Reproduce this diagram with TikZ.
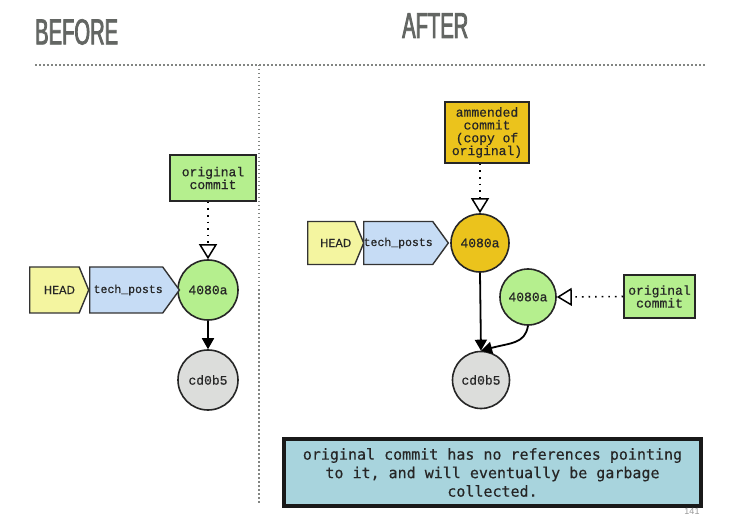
\documentclass[tikz,border=0pt]{standalone}
\usepackage{fontspec}
\setmainfont{Liberation Sans}
\newfontfamily\titlefont[FakeStretch=0.56,FakeBold=2.2]{Liberation Sans}
\newfontfamily\lblfont[FakeBold=0.6]{Liberation Mono}
\newfontfamily\boxfont[FakeBold=0.4]{DejaVu Sans Mono}
\newfontfamily\headfont[FakeBold=0.4]{DejaVu Sans}
\usetikzlibrary{shapes.symbols,arrows.meta,calc}
\definecolor{titlegray}{HTML}{636663}
\definecolor{cgreen}{HTML}{B5EF8E}
\definecolor{cgold}{HTML}{EBC31C}
\definecolor{cgray}{HTML}{DCDDDB}
\definecolor{cyellow}{HTML}{F4F5A0}
\definecolor{cblue}{HTML}{C6DCF5}
\definecolor{cnote}{HTML}{A8D4DD}
\tikzset{
  lbl/.style={font=\lblfont\fontsize{13}{12.8}\selectfont, text=black!85},
  commit/.style={circle, draw=black!85, line width=1.6pt, minimum size=60pt, inner sep=0pt, lbl},
  tagbox/.style={rectangle, draw=black!85, line width=1.8pt, lbl, align=center, inner sep=0pt},
  refbox/.style={signal, signal to=east, draw=black!80, line width=1.4pt, inner sep=0pt, anchor=west},
  headbox/.style={refbox, fill=cyellow, signal pointer angle=135, font=\headfont\fontsize{11}{11}\selectfont, text=black!85},
  branchbox/.style={refbox, fill=cblue, signal pointer angle=108, font=\lblfont\fontsize{11.5}{11.5}\selectfont, text=black!85},
  dotarrow/.style={line width=1.6pt, dash pattern=on 1.6pt off 5pt, -{Triangle[open,width=18pt,length=15pt,line width=1.5pt]}},
  parent/.style={line width=1.8pt, -{Triangle[width=12pt,length=11pt]}},
  sep/.style={line width=1.5pt, titlegray!80, dash pattern=on 1.5pt off 2.5pt},
  title/.style={font=\titlefont\fontsize{36}{36}\selectfont, text=titlegray, inner sep=0pt, anchor=north west},
}
\begin{document}
\begin{tikzpicture}[x=1pt,y=-1pt]
\useasboundingbox[fill=white] (0,0) rectangle (732,524);
% titles
\node[title] (tb) at (35,19) {BEFORE};
\node[title] (ta) at (402,13) {AFTER};
% separators
\coordinate (h1) at (35,65);
\coordinate (h2) at (705,65);
\coordinate (v1) at (259,65);
\coordinate (v2) at (259,505);
\draw[sep] (h1) -- (h2);
\draw[sep] (v1) -- (v2);
% BEFORE panel
\node[tagbox, fill=cgreen, minimum width=86pt, minimum height=46pt] (ob) at (213,178) {original\\commit};
\node[commit, fill=cgreen] (b1) at (208,290) {4080a};
\node[commit, fill=cgray] (b2) at (208,380) {cd0b5};
\node[headbox, minimum width=59pt, minimum height=46pt] (bh) at (29,290) {\hspace*{10pt}HEAD};
\node[branchbox, minimum width=83pt, minimum height=46pt] (bt) at (89,290) {\hspace*{4pt}tech\_posts};
\draw[dotarrow] (ob.south -| b1) -- (b1.north);
\draw[parent] (b1) -- (b2);
% AFTER panel
\node[tagbox, fill=cgold, minimum width=84pt, minimum height=61pt] (am) at (487,132.5) {ammended\\commit\\(copy of\\original)};
\node[commit, fill=cgold, minimum size=58pt] (a1) at (480,243) {4080a};
\node[commit, fill=cgreen, minimum size=56pt] (g1) at (528,297) {4080a};
\node[commit, fill=cgray, minimum size=57pt] (a2) at (481,380) {cd0b5};
\node[tagbox, fill=cgreen, minimum width=71pt, minimum height=43pt] (oc) at (659.5,296.5) {original\\commit};
\node[headbox, minimum width=56pt, minimum height=43pt] (ah) at (307,243) {\hspace*{9pt}HEAD};
\node[branchbox, minimum width=79pt, minimum height=43pt] (at) at (363,243) {tech\_posts};
\draw[dotarrow] (am.south -| a1) -- (a1.north);
\draw[dotarrow] (oc.west) -- (g1.east);
\draw[parent] (a1.south) -- (a2.north);
\draw[parent] (g1.south) .. controls +(-3,18) and +(30,-8) .. (a2.north);
% note
\node[rectangle, draw=black!90, line width=3.5pt, fill=cnote, minimum width=417pt, minimum height=67pt, align=center, font=\boxfont\fontsize{15}{18.5}\selectfont, text=black!85] (note) at (492.5,472.5) {original commit has no references pointing\\to it, and will eventually be garbage\\collected.};
\node[font=\fontsize{9}{9}\selectfont, text=black!40, inner sep=0pt] (pg) at (692,511) {141};
\end{tikzpicture}
\end{document}
